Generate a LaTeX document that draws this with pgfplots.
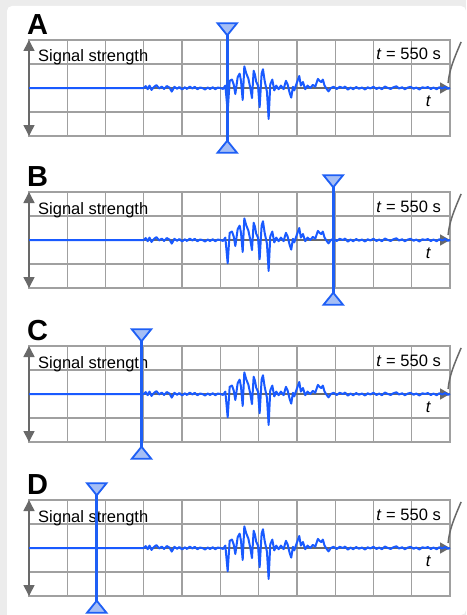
\documentclass[border=0pt]{standalone}
\usepackage{pgfplots}
\pgfplotsset{compat=1.18}
\usepackage{pgfplotstable}
\usepackage{fontspec}
\setmainfont{Liberation Sans}
\usetikzlibrary{arrows.meta}
\definecolor{sigblue}{RGB}{25,90,255}
\definecolor{markblue}{RGB}{30,95,245}
\definecolor{trifill}{RGB}{165,190,245}
\definecolor{gridgray}{RGB}{160,160,160}
\definecolor{arrowgray}{RGB}{105,105,105}
\definecolor{framegray}{RGB}{236,236,236}

\pgfplotstableread{
x y
0 0
3.00 0
3.05 0.08
3.10 -0.05
3.15 0.10
3.20 -0.08
3.27 0.05
3.33 0.12
3.40 -0.02
3.47 0.06
3.53 -0.04
3.60 0.08
3.67 0.02
3.73 -0.15
3.80 0.05
3.87 -0.03
3.93 0.04
4.00 -0.06
4.07 0.03
4.13 -0.04
4.20 0.06
4.27 -0.02
4.33 0.05
4.40 -0.05
4.47 0.02
4.53 0.00
4.60 -0.06
4.67 0.02
4.73 -0.04
4.80 0.03
4.87 -0.05
4.93 0.02
5.000 0.00
5.070 -0.04
5.130 0.10
5.191 -0.97
5.243 0.30
5.304 0.35
5.348 0.15
5.391 -0.25
5.452 0.45
5.504 0.60
5.539 0.30
5.583 -0.50
5.626 0.90
5.678 0.60
5.730 0.40
5.783 0.00
5.826 -0.42
5.870 0.72
5.904 0.55
5.939 0.25
5.983 0.10
6.026 -0.80
6.078 0.60
6.113 0.78
6.157 0.30
6.217 -0.15
6.261 -1.29
6.304 0.15
6.357 0.35
6.409 -0.10
6.461 0.10
6.522 -0.05
6.583 0.10
6.652 -0.05
6.713 0.30
6.757 0.15
6.809 -0.20
6.852 -0.40
6.896 0.05
6.930 -0.10
6.983 0.15
7.017 0.30
7.061 0.50
7.104 0.10
7.157 0.25
7.217 -0.05
7.278 0.10
7.348 0.00
7.417 0.13
7.478 0.05
7.548 0.38
7.591 0.30
7.635 0.25
7.678 0.35
7.722 0.10
7.783 -0.05
7.826 -0.14
7.887 0.00
7.957 0.05
8.04 -0.04
8.12 0.05
8.20 0.00
8.26 0.06
8.33 -0.07
8.40 0.02
8.47 -0.05
8.55 0.04
8.62 -0.03
8.70 0.02
8.78 -0.06
8.85 0.03
8.92 -0.02
9.00 0.05
9.08 -0.04
9.15 0.02
9.22 -0.05
9.30 0.06
9.38 0.00
9.45 -0.04
9.52 0.03
9.60 0.07
9.67 -0.02
9.75 0.03
9.82 -0.05
9.90 0.02
9.97 0.05
10.05 -0.03
10.12 0.02
10.20 -0.06
10.28 0.03
10.35 0.00
10.42 0.04
10.50 -0.04
10.57 0.02
10.65 -0.05
10.72 0.03
10.80 -0.02
10.87 0.04
10.95 -0.03
11.00 0
}\sig

\pgfplotsset{
  panel/.style={
    scale only axis, width=421pt, height=96pt,
    anchor=north west,
    xmin=0, xmax=11, ymin=-2, ymax=2,
    xtick={0,...,11}, ytick={-2,...,2},
    xticklabels={}, yticklabels={},
    tick label style={text opacity=0},
    major tick length=0pt,
    grid=major,
    grid style={gridgray, line width=1.3pt},
    axis line style={gridgray, line width=1.3pt},
    clip=false,
  },
}

% one panel: #1 = letter, #2 = marker x position
\newcommand{\panelcontent}[2]{%
  \node[anchor=base west, inner sep=0pt, font=\fontsize{29}{29}\selectfont\bfseries]
    at (rel axis cs:0,1) [xshift=-2pt, yshift=5.5pt] {#1};
  \node[anchor=base west, inner sep=0pt, font=\fontsize{16.5}{18}\selectfont]
    at (rel axis cs:0,1) [xshift=9pt, yshift=-22pt] {Signal strength};
  \node[anchor=base east, inner sep=0pt, font=\fontsize{16.5}{18}\selectfont]
    at (rel axis cs:1,1) [xshift=-9pt, yshift=-20pt] {\textit{t} = 550 s};
  \node[anchor=base, inner sep=0pt, font=\fontsize{16.5}{18}\selectfont]
    at (axis cs:10.44,-0.75) {\textit{t}};
  \draw[arrowgray, line width=1.6pt, {Triangle[width=11pt,length=11pt]}-{Triangle[width=11pt,length=11pt]}]
    (axis cs:0,-2) -- (axis cs:0,2);
  \draw[arrowgray, line width=1.6pt, -{Triangle[width=11pt,length=10pt]}]
    (axis cs:0,0) -- (axis cs:11,0);
  \draw[arrowgray, line width=1.5pt]
    (axis cs:10.95,0.21) .. controls (axis cs:10.99,0.8) and (axis cs:11.1,1.2) .. (axis cs:11.29,1.92);
  \addplot[sigblue, line width=2pt, line join=round] table {\sig};
  \addplot[only marks, mark=triangle*, mark size=8pt,
    mark options={fill=trifill, draw=markblue, line width=1.8pt, rotate=180, xscale=1.4}]
    coordinates {(#2,2.53)};
  \addplot[only marks, mark=triangle*, mark size=8pt,
    mark options={fill=trifill, draw=markblue, line width=1.8pt, xscale=1.4}]
    coordinates {(#2,-2.53)};
  \addplot[markblue, line width=2.6pt] coordinates {(#2,2.5) (#2,-2.5)};
}

\begin{document}
\begin{tikzpicture}
\useasboundingbox (0pt,0pt) rectangle (466pt,-615pt);
\fill[framegray] (0pt,0pt) rectangle (466pt,-615pt);
\fill[white] (466pt,-615pt) -- (7pt,-615pt) [rounded corners=5pt] -- (7pt,-6pt) -- (466pt,-6pt) -- cycle;

\begin{axis}[panel, at={(29pt,-40pt)}]
\panelcontent{A}{5.18}
\end{axis}

\begin{axis}[panel, at={(29pt,-192pt)}]
\panelcontent{B}{7.95}
\end{axis}

\begin{axis}[panel, at={(29pt,-346pt)}]
\panelcontent{C}{2.94}
\end{axis}

\begin{axis}[panel, at={(29pt,-500pt)}]
\panelcontent{D}{1.77}
\end{axis}
\end{tikzpicture}
\end{document}
